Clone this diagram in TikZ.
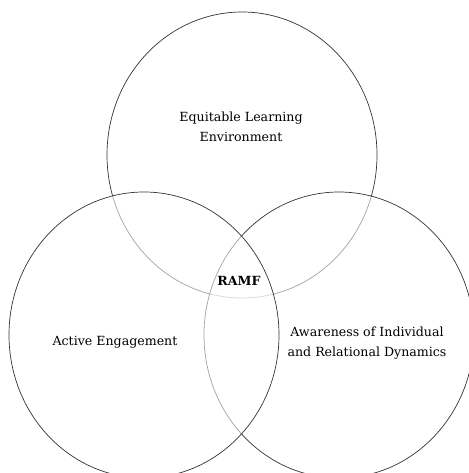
\documentclass[tikz,border=0pt]{standalone}
\usepackage{fontspec}
\setmainfont{DejaVu Serif}
\begin{document}
\begin{tikzpicture}[x=1pt,y=-1pt,
  ring/.style={draw=black!80, line width=0.7pt, fill=white, fill opacity=0.55},
  lbl/.style={align=center, font=\fontsize{12.6}{19.5}\selectfont, inner sep=0pt}]
\useasboundingbox (0,0) rectangle (468,473);
\fill[white] (0,0) rectangle (468,473);
\draw[ring] (242,155) ellipse [x radius=135pt, y radius=143pt];
\draw[ring] (339,335) ellipse [x radius=135pt, y radius=143pt];
\draw[ring] (144,335) ellipse [x radius=135pt, y radius=143pt];
\node[lbl] (elearn) at (241,127) {Equitable Learning\\Environment};
\node[lbl] (active) at (115,342) {Active Engagement};
\node[lbl] (aware) at (367,343) {Awareness of Individual\\and Relational Dynamics};
\node[lbl, font=\fontsize{12.6}{19.5}\selectfont\bfseries] (ramf) at (239,281) {RAMF};
\end{tikzpicture}
\end{document}
